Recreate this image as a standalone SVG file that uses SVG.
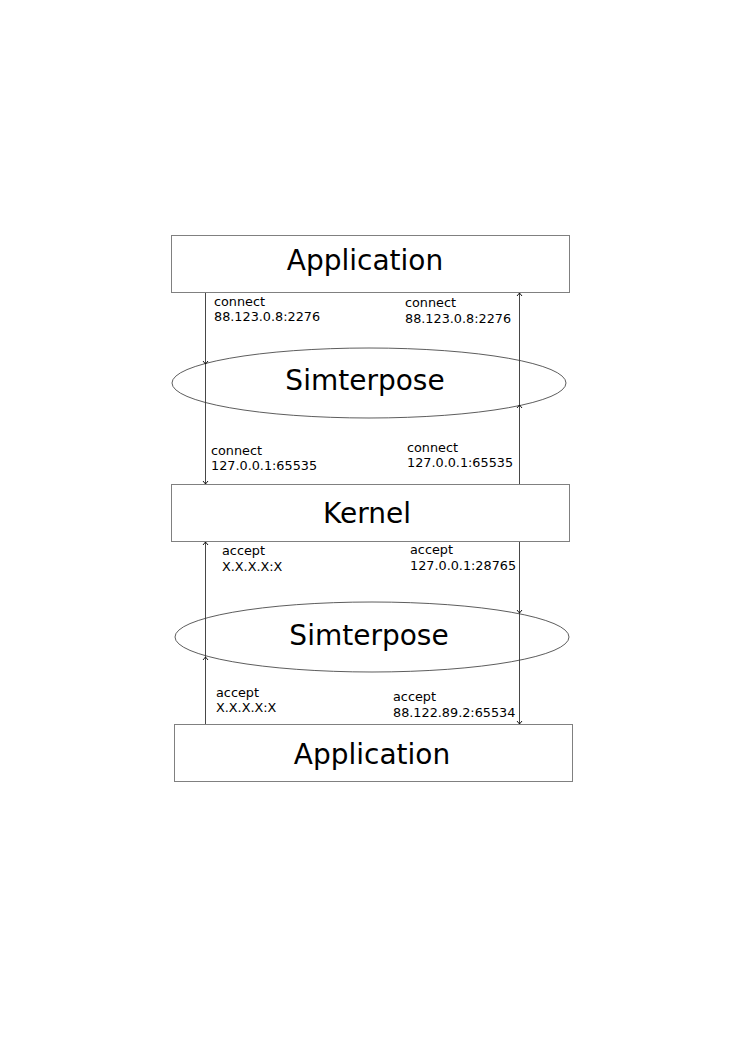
<svg xmlns="http://www.w3.org/2000/svg" width="744" height="1052" viewBox="0 0 744 1052">
<style>
.box{fill:#fff;stroke:#808080;stroke-width:1}
.ell{fill:none;stroke:#333;stroke-width:0.8}
.big{font-family:"DejaVu Sans",sans-serif;font-size:28px;fill:#000;text-anchor:middle}
.lbl{font-family:"DejaVu Sans",sans-serif;font-size:12.8px;fill:#000}
.ln{stroke:#333;stroke-width:0.9;fill:none}
</style>
<defs>
<marker id="ah" markerWidth="8" markerHeight="8" refX="4" refY="4" orient="auto" markerUnits="userSpaceOnUse">
<polyline points="1,1.5 4,4 1,6.5" fill="none" stroke="#000" stroke-width="0.9"/>
</marker>
</defs>
<rect width="744" height="1052" fill="#fff"/>
<g id="app-top"><rect class="box" x="171.5" y="235.5" width="398" height="57"/><text class="big" x="365" y="270">Application</text></g>
<g id="simterpose-top"><ellipse class="ell" cx="369" cy="383" rx="197" ry="35"/><text class="big" x="365" y="390">Simterpose</text></g>
<g id="kernel"><rect class="box" x="171.5" y="484.5" width="398" height="57"/><text class="big" x="367" y="523">Kernel</text></g>
<g id="simterpose-bottom"><ellipse class="ell" cx="372" cy="637" rx="197" ry="35"/><text class="big" x="369" y="645">Simterpose</text></g>
<g id="app-bottom"><rect class="box" x="174.5" y="724.5" width="398" height="57"/><text class="big" x="372" y="764">Application</text></g>
<g id="connectors">
<line class="ln" x1="205.5" y1="293" x2="205.5" y2="364" marker-end="url(#ah)"/>
<line class="ln" x1="205.5" y1="364" x2="205.5" y2="484" marker-end="url(#ah)"/>
<line class="ln" x1="519.5" y1="484" x2="519.5" y2="405" marker-end="url(#ah)"/>
<line class="ln" x1="519.5" y1="405" x2="519.5" y2="293" marker-end="url(#ah)"/>
<line class="ln" x1="205.5" y1="724" x2="205.5" y2="657" marker-end="url(#ah)"/>
<line class="ln" x1="205.5" y1="657" x2="205.5" y2="542" marker-end="url(#ah)"/>
<line class="ln" x1="519.5" y1="542" x2="519.5" y2="613" marker-end="url(#ah)"/>
<line class="ln" x1="519.5" y1="613" x2="519.5" y2="724" marker-end="url(#ah)"/>
<text class="lbl" x="214" y="306">connect</text><text class="lbl" x="214" y="321">88.123.0.8:2276</text>
<text class="lbl" x="405" y="307">connect</text><text class="lbl" x="405" y="323">88.123.0.8:2276</text>
<text class="lbl" x="211" y="455">connect</text><text class="lbl" x="211" y="470">127.0.0.1:65535</text>
<text class="lbl" x="407" y="452">connect</text><text class="lbl" x="407" y="467">127.0.0.1:65535</text>
<text class="lbl" x="222" y="555">accept</text><text class="lbl" x="222" y="571">X.X.X.X:X</text>
<text class="lbl" x="410" y="554">accept</text><text class="lbl" x="410" y="570">127.0.0.1:28765</text>
<text class="lbl" x="216" y="697">accept</text><text class="lbl" x="216" y="712">X.X.X.X:X</text>
<text class="lbl" x="393" y="701">accept</text><text class="lbl" x="393" y="717">88.122.89.2:65534</text>
</g>
</svg>
